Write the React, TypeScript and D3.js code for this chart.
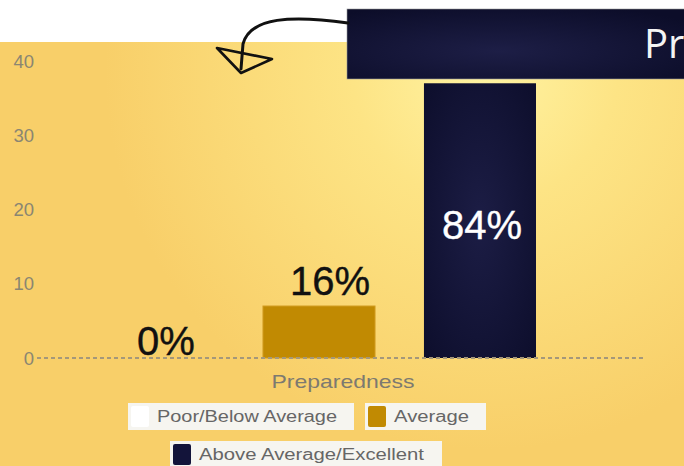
import React from "react";
import * as d3 from "d3";

const categories = ["Poor/Below Average", "Average", "Above Average/Excellent"];
const values = [0, 7, 37];
const percentLabels = ["0%", "16%", "84%"];
const barColors = ["#ffffff", "#c18a02", "url(#darkGrad)"];
const swatchColors = ["#ffffff", "#c18a02", "#13143a"];
const yTicks = [0, 10, 20, 30, 40];
const xAxisTitle = "Preparedness";
const bannerText = "Pr";

const W = 684;
const H = 466;

export default function App() {
  const y = d3.scaleLinear().domain([0, 40]).range([358, 61]);
  const x = d3.scaleBand<string>().domain(categories).range([102, 536]).paddingInner(0.304).paddingOuter(0);
  const bw = x.bandwidth();
  const labelOffsets = [8, 11, 2];

  const legendRows = [
    [
      { i: 0, x: 128, w: 226, tl: 180 },
      { i: 1, x: 365, w: 121, tl: 75 },
    ],
    [{ i: 2, x: 170, w: 272, tl: 225 }],
  ];
  const legendY = [403, 441];

  const arrow = d3.path();
  arrow.moveTo(348, 23);
  arrow.bezierCurveTo(292, 15, 250, 17, 243, 44);
  arrow.lineTo(241, 69);

  return (
    <svg width={W} height={H} style={{ position: "absolute", left: 0, top: 0 }} fontFamily="'Liberation Sans', Arial, sans-serif">
      <defs>
        <radialGradient id="bgGrad" gradientUnits="userSpaceOnUse" cx={485} cy={70} r={380}>
          <stop offset="0" stopColor="#fff3a2" />
          <stop offset="0.35" stopColor="#fde485" />
          <stop offset="1" stopColor="#f8cf69" />
        </radialGradient>
        <radialGradient id="darkGrad" cx="0.5" cy="0.5" r="0.7">
          <stop offset="0" stopColor="#1c1d45" />
          <stop offset="1" stopColor="#0d0e2c" />
        </radialGradient>
        <radialGradient id="bannerGrad" cx="0.45" cy="0.6" r="0.7">
          <stop offset="0" stopColor="#1d1e46" />
          <stop offset="1" stopColor="#0c0d29" />
        </radialGradient>
      </defs>
      <rect x={0} y={0} width={W} height={H} fill="#ffffff" />
      <rect x={0} y={42} width={W} height={H - 42} fill="url(#bgGrad)" />

      {yTicks.map((t) => (
        <text key={t} x={34} y={y(t) + 6.5} textAnchor="end" fontSize={18.5} fill="#8a8672">
          {t}
        </text>
      ))}

      {categories.map((c, i) => (
        <rect
          key={c}
          x={x(c)}
          y={y(values[i])}
          width={bw}
          height={y(0) - y(values[i])}
          fill={barColors[i]}
          stroke={i === 1 ? "#d19c20" : "none"}
          strokeWidth={1}
        />
      ))}

      <line x1={37} x2={645} y1={y(0)} y2={y(0)} stroke="#a5987a" strokeWidth={2} strokeDasharray="4 3" />

      {categories.map((c, i) => {
        const cx = (x(c) as number) + bw / 2 + labelOffsets[i];
        const inside = i === 2;
        const ty = inside ? (y(values[i]) + y(0)) / 2 + 18 : y(values[i]) - 11;
        return (
          <text key={c} x={cx} y={inside ? ty : i === 0 ? y(0) - 3 : ty} textAnchor="middle" fontSize={40} fill={inside ? "#ffffff" : "#111111"} stroke={inside ? "#ffffff" : "#111111"} strokeWidth={0.4}>
            {percentLabels[i]}
          </text>
        );
      })}

      <text x={343} y={388} textAnchor="middle" fontSize={19} fill="#7d7a70" textLength={143} lengthAdjust="spacingAndGlyphs">
        {xAxisTitle}
      </text>

      {legendRows.map((row, r) =>
        row.map((it) => (
          <g key={it.i} transform={`translate(${it.x},${legendY[r]})`}>
            <rect x={0} y={0} width={it.w} height={27} fill="#f6f5f0" />
            <rect x={3} y={3} width={18} height={21} rx={2} fill={swatchColors[it.i]} />
            <text x={29} y={19} fontSize={16} fill="#666666" textLength={it.tl} lengthAdjust="spacingAndGlyphs">
              {categories[it.i]}
            </text>
          </g>
        ))
      )}

      <rect x={347} y={9} width={W - 347 + 2} height={70} fill="url(#bannerGrad)" stroke="#9a9a9a" strokeWidth={0.6} />
      <text x={644} y={58} fontSize={40} fill="#f4f4f4" fontFamily="'Open Sans', sans-serif">
        {bannerText}
      </text>

      <path d={arrow.toString()} fill="none" stroke="#111" strokeWidth={3} strokeLinecap="round" />
      <path d="M217,48 L272,59 L241,73 Z" fill="none" stroke="#111" strokeWidth={2.6} strokeLinejoin="round" />
    </svg>
  );
}
